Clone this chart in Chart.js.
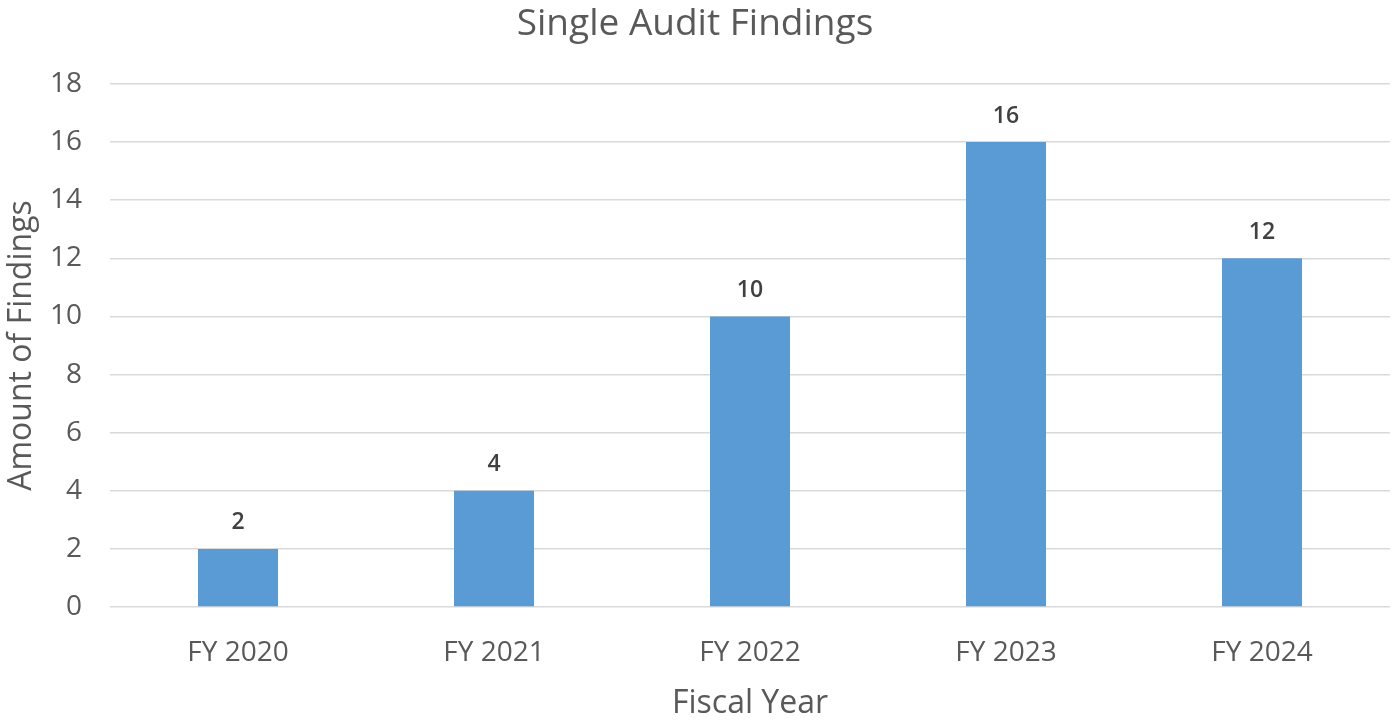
<!DOCTYPE html>
<html>
<head>
<meta charset="utf-8">
<script src="https://cdn.jsdelivr.net/npm/chart.js@4/dist/chart.umd.min.js"></script>
<style>
  html, body { margin: 0; padding: 0; background: #fff; }
  #wrap { width: 1396px; height: 721px; }
</style>
</head>
<body>
<div id="wrap"><canvas id="myChart"></canvas></div>
<script>
var years = ['FY 2020', 'FY 2021', 'FY 2022', 'FY 2023', 'FY 2024'];
var findings = [2, 4, 10, 16, 12];
var yTicks = [0, 2, 4, 6, 8, 10, 12, 14, 16, 18];

var fontName = "'Open Sans', 'Liberation Sans', sans-serif";
var grey = '#595959';

// draws the numbers over the bars
const barLabels = {
  id: 'barLabels',
  afterDatasetsDraw(chart) {
    const ctx = chart.ctx;
    const meta = chart.getDatasetMeta(0);
    ctx.save();
    ctx.font = '600 23px ' + fontName;
    ctx.fillStyle = '#404040';
    ctx.textAlign = 'center';
    ctx.textBaseline = 'middle';
    meta.data.forEach(function(bar, i) {
      ctx.fillText(findings[i], bar.x, bar.y - 26);
    });
    ctx.restore();
  }
};

const data = {
  labels: years,
  datasets: [{
    label: 'Findings',
    data: findings,
    backgroundColor: '#5B9BD5',
    borderWidth: 0,
    categoryPercentage: 1,
    barPercentage: 0.3125
  }]
};

const config = {
  type: 'bar',
  data,
  options: {
    responsive: false,
    animation: false,
    layout: { padding: { left: 0, right: 6, top: 0, bottom: 0 } },
    plugins: {
      legend: { display: false },
      tooltip: { enabled: false },
      title: {
        display: true,
        text: 'Single Audit Findings',
        color: grey,
        font: { family: fontName, size: 37, weight: 'normal' },
        padding: { top: 2, bottom: 37.6 }
      }
    },
    scales: {
      x: {
        grid: { display: false, drawTicks: false },
        border: { display: false },
        ticks: {
          color: grey,
          padding: 29,
          font: { family: fontName, size: 28 }
        },
        title: {
          display: true,
          text: 'Fiscal Year',
          color: grey,
          font: { family: fontName, size: 32, lineHeight: 1.1 },
          padding: { top: 0, bottom: 0 }
        },
        afterFit: function(scale) { scale.height = 114; }
      },
      y: {
        min: 0,
        max: 18,
        afterBuildTicks: function(scale) {
          scale.ticks = yTicks.map(function(v) { return { value: v }; });
        },
        grid: { color: '#d9d9d9', lineWidth: 1.5, drawTicks: false },
        border: { display: false },
        ticks: {
          color: grey,
          padding: 28,
          font: { family: fontName, size: 28 }
        },
        title: {
          display: true,
          text: 'Amount of Findings',
          color: grey,
          font: { family: fontName, size: 32 },
          padding: { top: 3, bottom: 0 }
        },
        afterFit: function(scale) { scale.width = 110; }
      }
    }
  },
  plugins: [barLabels]
};

var c = document.getElementById('myChart');
c.width = 1396;
c.height = 721;
const myChart = new Chart(c, config);
</script>
</body>
</html>
